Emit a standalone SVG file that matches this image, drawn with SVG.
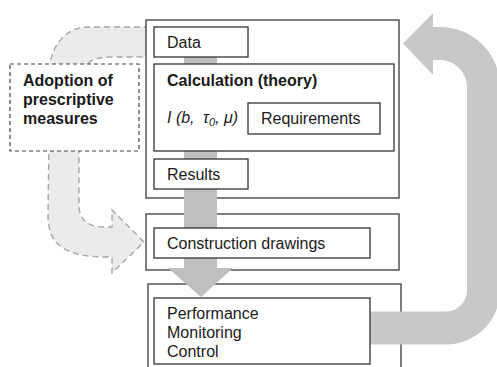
<svg xmlns="http://www.w3.org/2000/svg" width="497" height="367" viewBox="0 0 497 367">
  <style>
    .frame { fill: #ffffff; stroke: #3a3a3a; stroke-width: 1.3; }
    .box { fill: #ffffff; stroke: #333333; stroke-width: 1.3; }
    .dbox { fill: #ffffff; stroke: #444444; stroke-width: 1.2; stroke-dasharray: 4 3; }
    .flow { fill: #bfbfbf; stroke: none; }
    .loop { fill: #c8c8c8; stroke: none; }
    .dflow { fill: #ebebeb; stroke: #a6a6a6; stroke-width: 1.4; stroke-dasharray: 6 4; }
    text { font-family: "Liberation Sans", Arial, sans-serif; font-size: 16px; fill: #1a1a1a; }
    .b { font-weight: bold; }
    .i { font-style: italic; }
  </style>

  <!-- dashed feedback arrow on the left (drawn below the frames) -->
  <g id="connectors-back">
    <path class="dflow" d="M 150 27 L 88 27 C 68 27 54 42 50 63 L 48 215 C 48 245 65 257 108 257 L 112 257 L 112 273 L 144 242 L 112 210 L 112 227 L 104 227 C 88 227 79 220 79 205 L 79 152 L 88 64 Q 92 57 112 57 L 150 57 Z"/>
  </g>

  <!-- outer frames -->
  <g id="stage-design">
    <rect class="frame" x="146" y="20" width="253" height="178"/>
  </g>
  <g id="stage-drawings">
    <rect class="frame" x="146" y="214" width="253" height="56"/>
  </g>
  <g id="stage-site">
    <rect class="frame" x="148" y="284" width="253" height="90"/>
  </g>

  <!-- main downward flow and return loop -->
  <g id="connectors">
    <rect class="flow" x="184" y="57" width="33" height="212"/>
    <polygon class="flow" points="168,268 233,268 201,297"/>
    <path class="loop" d="M 370 311.5 L 446 311.5 A 21 21 0 0 0 467 290.5 L 467 87 A 27 27 0 0 0 440 60 L 433 60 L 433 75 L 403 43.5 L 433 13 L 433 27 L 440 27 A 60 60 0 0 1 500 87 L 500 290.5 A 54 54 0 0 1 446 344.5 L 370 344.5 Z"/>
  </g>

  <!-- inner nodes -->
  <g id="data">
    <rect class="box" x="154" y="27" width="94" height="30"/>
    <text x="167" y="48">Data</text>
  </g>
  <g id="calculation">
    <rect class="box" x="154" y="64" width="240" height="87"/>
    <text class="b" x="167" y="86">Calculation (theory)</text>
    <text class="i" x="167" y="123">I (b, <tspan dx="4">τ</tspan><tspan font-size="11" dy="3">0</tspan><tspan dy="-3">, μ)</tspan></text>
  </g>
  <g id="requirements">
    <rect class="box" x="248" y="103" width="132" height="31"/>
    <text x="261" y="124">Requirements</text>
  </g>
  <g id="results">
    <rect class="box" x="154" y="159" width="94" height="30"/>
    <text x="167" y="180">Results</text>
  </g>
  <g id="construction-drawings">
    <rect class="box" x="154" y="228" width="216" height="30"/>
    <text x="167" y="249">Construction drawings</text>
  </g>
  <g id="performance">
    <rect class="box" x="154" y="298" width="216" height="66"/>
    <text x="167" y="319">Performance</text>
    <text x="167" y="338">Monitoring</text>
    <text x="167" y="357">Control</text>
  </g>
  <g id="adoption">
    <rect class="dbox" x="10" y="64" width="129" height="87"/>
    <text class="b" x="23" y="86">Adoption of</text>
    <text class="b" x="23" y="105">prescriptive</text>
    <text class="b" x="23" y="124">measures</text>
  </g>
</svg>
